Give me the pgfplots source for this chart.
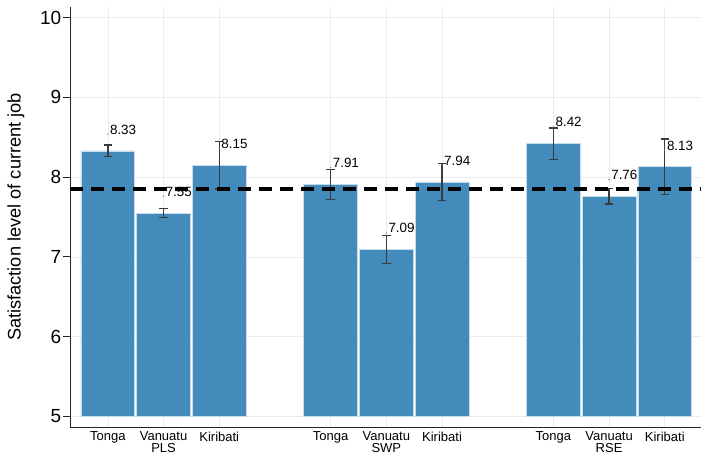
\documentclass[border=0pt]{standalone}
\usepackage{pgfplots}
\pgfplotsset{compat=1.18}
\usepackage{pgfplotstable}
\usepackage{fontspec}
\setmainfont{Liberation Sans}
\definecolor{barblue}{HTML}{428BBA}
\definecolor{errgray}{HTML}{3C3C3C}

\pgfplotstableread{
x  base h     val   err    lab   txt
1  5    3.33  8.33  0.075  8.54  8.33
2  5    2.55  7.55  0.055  7.76  7.55
3  5    3.15  8.15  0.300  8.36  8.15
5  5    2.91  7.91  0.190  8.12  7.91
6  5    2.09  7.09  0.175  7.30  7.09
7  5    2.94  7.94  0.230  8.15  7.94
9  5    3.42  8.42  0.195  8.63  8.42
10 5    2.76  7.76  0.095  7.97  7.76
11 5    3.13  8.13  0.350  8.34  8.13
}\datatab

\begin{document}
\begin{tikzpicture}
\begin{axis}[
  name=ax,
  scale only axis,
  width=631pt, height=420pt,
  xmin=0.32, xmax=11.65,
  ymin=4.867, ymax=10.134,
  axis x line*=bottom, axis y line*=left,
  axis line style={black!85, line width=0.9pt, -},
  xtick={1,2,3,5,6,7,9,10,11},
  xticklabels={Tonga,{Vanuatu\\PLS},Kiribati,Tonga,{Vanuatu\\SWP},Kiribati,Tonga,{Vanuatu\\RSE},Kiribati},
  xticklabel style={align=center, anchor=north, inner sep=0pt, font=\fontsize{13}{12.3}\selectfont, yshift=2.5pt},
  x tick style={draw=none},
  ytick={5,6,7,8,9,10},
  yticklabel style={font=\fontsize{19}{19}\selectfont, anchor=east, inner sep=0pt, xshift=-1.5pt},
  y tick style={black!85, line width=0.9pt},
  tick align=outside,
  major tick length=7pt,
  /pgf/number format/assume math mode=true,
  grid=major,
  major grid style={draw=black!8, line width=0.7pt},
  ylabel={Satisfaction level of current job},
  ylabel style={at={(axis description cs:-0.0856,0.5)}, anchor=center, font=\fontsize{18.2}{18.2}\selectfont},
  clip=false,
]
\addplot[ybar stacked, bar width=0.965, draw=none, fill=none, forget plot] table[x=x, y=base] {\datatab};
\addplot[ybar stacked, bar width=0.965, fill=barblue, draw=white!70!barblue, line width=0.6pt, forget plot] table[x=x, y=h] {\datatab};
\addplot[draw=none, mark=none, forget plot,
  error bars/.cd, y dir=both, y explicit,
  error bar style={draw=errgray, line width=1.3pt},
  error mark options={rotate=90, mark size=4.2pt, draw=errgray, line width=1.3pt}]
  table[x=x, y=val, y error=err] {\datatab};
\addplot[black, line width=3.6pt, dash pattern=on 13pt off 8pt, forget plot] coordinates {(0.32,7.855) (11.65,7.855)};
\addplot[only marks, mark=*, mark size=0.45pt, color=gray, forget plot,
  nodes near coords, point meta=explicit symbolic,
  every node near coord/.append style={anchor=base west, color=black, inner xsep=2pt, inner ysep=0pt, font=\fontsize{13.4}{13.4}\selectfont}]
  table[x=x, y=lab, meta=txt] {\datatab};
\end{axis}
\pgfresetboundingbox
\useasboundingbox ([xshift=-70pt,yshift=-28pt]ax.south west) rectangle ([yshift=7pt]ax.north east);
\end{tikzpicture}
\end{document}
